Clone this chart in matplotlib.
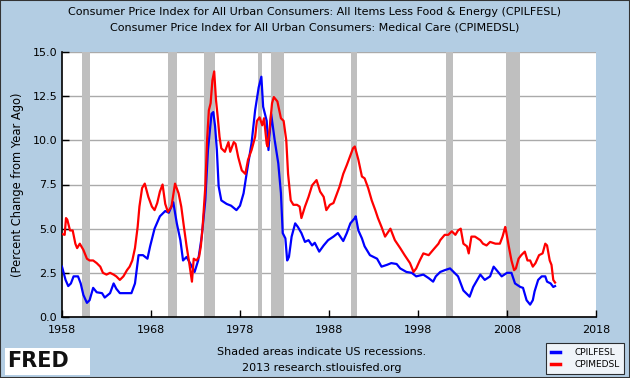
import matplotlib
matplotlib.use("Agg")
import matplotlib.pyplot as plt
from matplotlib.patches import Rectangle

# CPILFESL (all items less food & energy), % change from year ago
core_years = [1958.0, 1958.4, 1958.7, 1959.0, 1959.3, 1959.8, 1960.1, 1960.4, 1960.8, 1961.1,
              1961.5, 1961.9, 1962.5, 1962.8, 1963.4, 1963.8, 1964.1, 1964.5, 1965.2, 1965.8,
              1966.2, 1966.6, 1967.1, 1967.6, 1967.9, 1968.4, 1969.0, 1969.6, 1970.0, 1970.5,
              1970.9, 1971.3, 1971.6, 1972.0, 1972.6, 1972.9, 1973.3, 1973.7, 1974.1, 1974.4,
              1974.8, 1975.0, 1975.2, 1975.4, 1975.6, 1975.9, 1976.5, 1977.0, 1977.6, 1978.0,
              1978.4, 1978.8, 1979.3, 1979.7, 1980.1, 1980.4, 1980.6, 1981.0, 1981.2, 1981.5,
              1981.9, 1982.3, 1982.6, 1982.8, 1983.1, 1983.3, 1983.5, 1983.8, 1984.2, 1984.5,
              1984.9, 1985.3, 1985.7, 1986.1, 1986.4, 1986.9, 1987.4, 1987.9, 1988.5, 1989.0,
              1989.6, 1990.0, 1990.4, 1990.9, 1991.0, 1991.3, 1991.7, 1992.0, 1992.6, 1993.4,
              1993.9, 1994.5, 1995.0, 1995.6, 1996.0, 1996.7, 1997.3, 1997.8, 1998.6, 1999.2,
              1999.7, 2000.0, 2000.5, 2001.0, 2001.6, 2002.0, 2002.5, 2003.1, 2003.8, 2004.2,
              2005.0, 2005.5, 2006.1, 2006.5, 2007.0, 2007.4, 2008.0, 2008.5, 2008.9, 2009.5,
              2009.8, 2010.2, 2010.6, 2010.9, 2011.1, 2011.5, 2011.9, 2012.3, 2012.5, 2012.9,
              2013.2, 2013.4]
core_vals = [2.85, 2.1, 1.75, 1.9, 2.3, 2.3, 1.9, 1.25, 0.8, 0.95,
             1.65, 1.4, 1.35, 1.1, 1.35, 1.9, 1.6, 1.35, 1.35, 1.35,
             1.9, 3.5, 3.5, 3.3, 4.0, 5.0, 5.7, 6.0, 5.9, 6.5,
             5.3, 4.35, 3.2, 3.4, 2.85, 2.55, 3.2, 4.55, 6.6, 9.45,
             11.5, 11.6, 10.8, 9.45, 7.4, 6.6, 6.4, 6.3, 6.05, 6.3,
             7.0, 8.3, 9.85, 11.7, 13.0, 13.6, 11.9, 11.1, 9.45, 11.5,
             10.0, 8.7, 7.0, 4.75, 4.45, 3.2, 3.4, 4.55, 5.3, 5.1,
             4.75, 4.25, 4.35, 4.05, 4.2, 3.7, 4.05, 4.35, 4.55, 4.75,
             4.3, 4.75, 5.3, 5.6, 5.7, 4.9, 4.45, 4.0, 3.5, 3.3,
             2.85, 2.95, 3.05, 3.0, 2.75, 2.55, 2.5, 2.3, 2.4, 2.2,
             2.0, 2.3, 2.55, 2.65, 2.75, 2.55, 2.3, 1.5, 1.15, 1.7,
             2.4, 2.1, 2.3, 2.85, 2.55, 2.3, 2.5, 2.5, 1.9, 1.7,
             1.65, 0.95, 0.7, 0.95, 1.45, 2.1, 2.3, 2.3, 2.0, 1.9,
             1.7, 1.75]

# CPIMEDSL (medical care), % change from year ago
med_years = [1958.0, 1958.3, 1958.45, 1958.6, 1958.9, 1959.2, 1959.5, 1959.7, 1960.0, 1960.4,
             1960.8, 1961.1, 1961.5, 1961.9, 1962.3, 1962.6, 1963.0, 1963.4, 1963.8, 1964.1,
             1964.5, 1964.9, 1965.3, 1965.6, 1965.9, 1966.2, 1966.5, 1966.7, 1967.0, 1967.3,
             1967.7, 1968.1, 1968.4, 1968.7, 1969.0, 1969.3, 1969.6, 1969.9, 1970.3, 1970.7,
             1971.1, 1971.4, 1971.7, 1972.0, 1972.3, 1972.6, 1972.8, 1973.1, 1973.4, 1973.6,
             1973.8, 1974.1, 1974.3, 1974.5, 1974.7, 1974.9, 1975.1, 1975.3, 1975.5, 1975.7,
             1975.9, 1976.3, 1976.7, 1976.9, 1977.3, 1977.5, 1977.8, 1978.2, 1978.6, 1978.9,
             1979.3, 1979.7, 1979.9, 1980.2, 1980.5, 1980.7, 1981.0, 1981.1, 1981.3, 1981.6,
             1981.8, 1982.2, 1982.6, 1982.9, 1983.2, 1983.4, 1983.7, 1984.0, 1984.4, 1984.7,
             1984.9, 1985.3, 1985.7, 1986.1, 1986.6, 1987.0, 1987.4, 1987.7, 1988.1, 1988.5,
             1988.9, 1989.2, 1989.6, 1990.0, 1990.4, 1990.7, 1990.9, 1991.3, 1991.7, 1992.0,
             1992.4, 1992.8, 1993.2, 1993.5, 1993.9, 1994.3, 1994.9, 1995.4, 1996.0, 1996.5,
             1997.1, 1997.5, 1997.8, 1998.2, 1998.6, 1999.2, 1999.7, 2000.3, 2000.5, 2001.0,
             2001.4, 2001.8, 2002.2, 2002.5, 2002.8, 2003.1, 2003.5, 2003.7, 2004.0, 2004.4,
             2005.0, 2005.3, 2005.7, 2006.1, 2006.7, 2007.2, 2007.5, 2007.8, 2007.9, 2008.2,
             2008.5, 2008.8, 2009.0, 2009.3, 2009.6, 2010.0, 2010.3, 2010.6, 2010.9, 2011.2,
             2011.6, 2012.0, 2012.3, 2012.5, 2012.8, 2013.0, 2013.2, 2013.4]
med_vals = [4.7, 4.65, 5.6, 5.5, 4.9, 4.9, 4.15, 3.9, 4.15, 3.8,
            3.3, 3.2, 3.2, 3.05, 2.85, 2.5, 2.4, 2.5, 2.4, 2.3,
            2.1, 2.3, 2.65, 2.85, 3.2, 3.9, 5.1, 6.25, 7.3, 7.55,
            6.8, 6.25, 6.05, 6.45, 7.1, 7.5, 6.4, 5.95, 6.25, 7.55,
            7.0, 6.25, 5.1, 4.0, 3.05, 2.0, 3.3, 3.2, 3.4, 4.0,
            5.1, 7.35, 10.0, 11.7, 12.1, 13.4, 13.9, 12.3, 11.3, 10.2,
            9.55, 9.35, 9.9, 9.35, 9.9, 9.8, 9.05, 8.3, 8.1, 8.9,
            9.45, 10.2, 11.1, 11.3, 10.85, 11.25, 9.8, 9.65, 10.5, 12.1,
            12.45, 12.2, 11.25, 11.1, 10.0, 8.1, 6.6, 6.35, 6.35, 6.25,
            5.6, 6.25, 6.8, 7.45, 7.75, 7.1, 6.8, 6.05, 6.35, 6.45,
            7.0, 7.4, 8.1, 8.6, 9.15, 9.55, 9.65, 8.9, 7.95, 7.85,
            7.3, 6.6, 6.05, 5.6, 5.1, 4.55, 5.0, 4.35, 3.9, 3.5,
            3.05, 2.55, 2.75, 3.2, 3.6, 3.5, 3.8, 4.15, 4.35, 4.65,
            4.65, 4.85, 4.65, 4.9, 5.0, 4.15, 4.0, 3.6, 4.55, 4.55,
            4.35, 4.15, 4.05, 4.25, 4.15, 4.15, 4.55, 5.1, 4.85, 4.0,
            3.2, 2.65, 2.75, 3.3, 3.5, 3.7, 3.2, 3.2, 2.85, 3.05,
            3.5, 3.6, 4.15, 4.05, 3.2, 2.95, 2.1, 1.95]

# NBER recessions (start, end)
recessions = [(1960.3, 1961.1), (1969.9, 1970.9), (1973.9, 1975.2), (1980.0, 1980.5),
              (1981.5, 1982.9), (1990.5, 1991.2), (2001.2, 2001.9), (2007.9, 2009.5)]

x_ticks = [1958, 1968, 1978, 1988, 1998, 2008, 2018]
y_ticks = [0.0, 2.5, 5.0, 7.5, 10.0, 12.5, 15.0]

bg = "#b3cde3"

fig = plt.figure(figsize=(6.3, 3.78), dpi=100, facecolor=bg)
ax = fig.add_axes([62 / 630, 1 - 317 / 378, 534 / 630, 265 / 378])
ax.set_facecolor("white")

for start, end in recessions:
    ax.axvspan(start, end, color="#bfbfbf", lw=0, zorder=1)

for y in y_ticks:
    ax.axhline(y, color="#aaaaaa", lw=1.0, zorder=0.5)

ax.plot(core_years, core_vals, color="#0000ff", lw=1.6, label="CPILFESL", zorder=3)
ax.plot(med_years, med_vals, color="#ff0000", lw=1.6, label="CPIMEDSL", zorder=3)

ax.set_xlim(1958, 2018)
ax.set_ylim(0, 15)
ax.set_xticks(x_ticks)
ax.set_yticks(y_ticks)
ax.set_yticklabels(["%.1f" % v for v in y_ticks])
ax.tick_params(direction="in", length=5, width=1, labelsize=8, color="black")
ax.tick_params(axis="x", pad=6)
for side in ["top", "right"]:
    ax.spines[side].set_visible(False)
for side in ["left", "bottom"]:
    ax.spines[side].set_linewidth(1.2)

fig.text(18 / 630, 1 - 185 / 378, "(Percent Change from Year Ago)", rotation=90,
         ha="center", va="center", fontsize=8.3)

fig.text(0.5, 1 - 12 / 378,
         "Consumer Price Index for All Urban Consumers: All Items Less Food & Energy (CPILFESL)",
         ha="center", va="center", fontsize=8)
fig.text(0.5, 1 - 28 / 378,
         "Consumer Price Index for All Urban Consumers: Medical Care (CPIMEDSL)",
         ha="center", va="center", fontsize=8)

fig.text(322 / 630, 1 - 352 / 378, "Shaded areas indicate US recessions.",
         ha="center", va="center", fontsize=8)
fig.text(322 / 630, 1 - 368 / 378, "2013 research.stlouisfed.org",
         ha="center", va="center", fontsize=8)

leg = fig.legend(loc="lower right", bbox_to_anchor=(624 / 630, 4 / 378), fontsize=6.5,
                 frameon=True, fancybox=False, edgecolor="black", handlelength=1.0,
                 borderpad=0.5, labelspacing=0.4, handletextpad=1.6, borderaxespad=0)
leg.get_frame().set_linewidth(0.8)
for line in leg.get_lines():
    line.set_linewidth(2.5)

# FRED logo
fig.patches.append(Rectangle((5 / 630, 3 / 378), 85 / 630, 27 / 378, transform=fig.transFigure,
                             facecolor="white", edgecolor="none"))
fig.text(7 / 630, 1 - 361 / 378, "FRED", fontsize=15, fontweight="bold",
         ha="left", va="center", color="#111111")
icon = fig.add_axes([71 / 630, 6 / 378, 18 / 630, 18 / 378])
icon.set_facecolor("#eef3f6")
icon.plot([0, 1, 2, 3, 4, 5], [1, 2, 1.5, 3, 2.5, 4], color="#6a9a4a", lw=1)
icon.plot([0, 1, 2, 3, 4, 5], [0.5, 1, 1.2, 2, 2.2, 3], color="#7a9ac8", lw=1)
icon.set_xticks([])
icon.set_yticks([])
for s in icon.spines.values():
    s.set_visible(False)

# outer border
fig.patches.append(Rectangle((0, 0), 1, 1, transform=fig.transFigure, facecolor="none",
                             edgecolor="#333333", lw=1.5))

fig.savefig("out.png", dpi=100, facecolor=bg)
